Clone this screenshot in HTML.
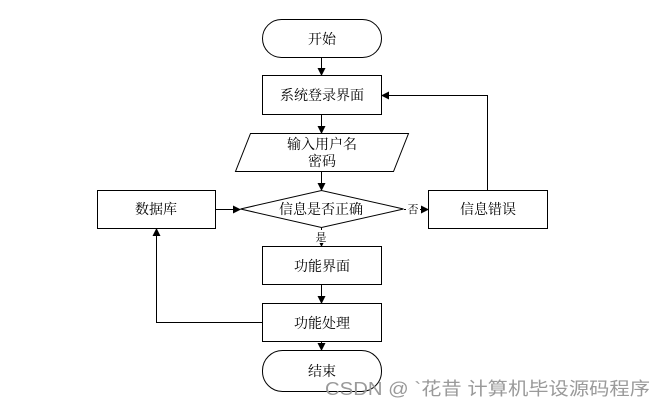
<!DOCTYPE html>
<html><head><meta charset="utf-8"><style>
html,body{margin:0;padding:0;background:#fff;}
svg{display:block;}
text{font-family:"Liberation Serif","Noto Serif CJK SC","Noto Sans CJK SC",serif;font-size:14px;fill:#000;}
</style></head><body>
<svg width="664" height="409" viewBox="0 0 664 409" xmlns="http://www.w3.org/2000/svg">
<defs><marker id="a" markerWidth="8" markerHeight="8" refX="7" refY="4" orient="auto" markerUnits="userSpaceOnUse"><path d="M0,0 L8,4 L0,8 z" fill="#000"/></marker></defs>
<g stroke="#000" stroke-width="1" fill="none">
<rect x="262.5" y="19.5" width="119" height="38" rx="19"/>
<rect x="262.5" y="75.5" width="119" height="39"/>
<polygon points="250.5,133.5 408.5,133.5 393.5,171.5 235.5,171.5"/>
<polygon points="240.5,209 321.5,190.5 403.5,209 321.5,227.5"/>
<rect x="97.5" y="190.5" width="118" height="38"/>
<rect x="428.5" y="190.5" width="119" height="38"/>
<rect x="262.5" y="246.5" width="119" height="38"/>
<rect x="262.5" y="303.5" width="119" height="38"/>
<rect x="262.5" y="350.5" width="119" height="41" rx="20"/>
<line x1="321.5" y1="58" x2="321.5" y2="75" marker-end="url(#a)"/>
<line x1="321.5" y1="115" x2="321.5" y2="133" marker-end="url(#a)"/>
<line x1="321.5" y1="172" x2="321.5" y2="190" marker-end="url(#a)"/>
<line x1="321.5" y1="228" x2="321.5" y2="246" marker-end="url(#a)"/>
<line x1="321.5" y1="285" x2="321.5" y2="303" marker-end="url(#a)"/>
<line x1="321.5" y1="342" x2="321.5" y2="350" marker-end="url(#a)"/>
<line x1="216" y1="209.5" x2="240" y2="209.5" marker-end="url(#a)"/>
<line x1="404" y1="209.5" x2="428" y2="209.5" marker-end="url(#a)"/>
<polyline points="487.5,190 487.5,95.5 382,95.5" marker-end="url(#a)"/>
<polyline points="262,322.5 156.5,322.5 156.5,229" marker-end="url(#a)"/>
</g>
<rect x="313" y="230" width="16" height="13" fill="#fff"/>
<rect x="406" y="202" width="14" height="14" fill="#fff"/>
<g text-anchor="middle">
<text x="322" y="44">开始</text>
<text x="322" y="100">系统登录界面</text>
<text x="322" y="149">输入用户名</text>
<text x="322" y="166">密码</text>
<text x="321" y="214">信息是否正确</text>
<text x="156" y="214">数据库</text>
<text x="488" y="214">信息错误</text>
<text x="322" y="271">功能界面</text>
<text x="322" y="328">功能处理</text>
<text x="322" y="376">结束</text>
<text x="413" y="213" style="font-size:11px">否</text>
<text x="321" y="241" style="font-size:11px">是</text>
</g>
<text x="325" y="395" textLength="325" lengthAdjust="spacingAndGlyphs" style="font-family:'Liberation Sans','Noto Sans CJK SC',sans-serif;font-size:18px;fill:#9a9a9a">CSDN @ `花昔  计算机毕设源码程序</text>
</svg>
</body></html>
